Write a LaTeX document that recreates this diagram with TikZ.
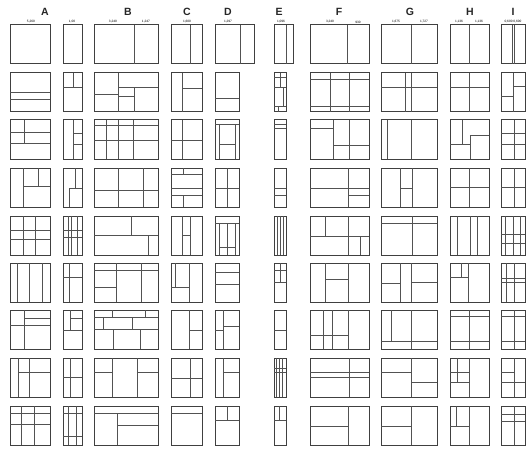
\documentclass[tikz,border=0pt]{standalone}
\usepackage{fontspec}
\setsansfont{Liberation Sans}
\begin{document}
\begin{tikzpicture}[x=1pt,y=-1pt,
  outer/.style={draw=black!75,line width=1.0pt},
  wall/.style={draw=black!68,line width=0.75pt},
  colhead/.style={font=\sffamily\bfseries\fontsize{10.5}{10.5}\selectfont,text=black!85,inner sep=0pt},
  dim/.style={font=\sffamily\fontsize{3.2}{3.2}\selectfont,text=black,inner sep=0pt}]
\newcommand\plan[5]{\begin{scope}[shift={(#1,#2)},x=#3pt,y=-#4pt]\draw[outer] (0,0) rectangle (1,1);#5\end{scope}}
\newcommand\hf[1]{\draw[wall] (0,#1)--(1,#1);}
\newcommand\vf[1]{\draw[wall] (#1,0)--(#1,1);}
\newcommand\hw[3]{\draw[wall] (#2,#1)--(#3,#1);}
\newcommand\vw[3]{\draw[wall] (#1,#2)--(#1,#3);}
\useasboundingbox (0,0) rectangle (526,449);
\fill[white] (0,0) rectangle (526,449);
% headers
\node[colhead] (hA) at (45,12) {A};
\node[colhead] (hB) at (128,12) {B};
\node[colhead] (hC) at (187,12) {C};
\node[colhead] (hD) at (228,12) {D};
\node[colhead] (hE) at (279,12) {E};
\node[colhead] (hF) at (339,12) {F};
\node[colhead] (hG) at (410,12) {G};
\node[colhead] (hH) at (470,12) {H};
\node[colhead] (hI) at (513,12) {I};
% dimension labels
\node[dim] (d1) at (31,22) {5,260};
\node[dim] (d2) at (72,22) {1,00};
\node[dim] (d3) at (113,22) {3,240};
\node[dim] (d4) at (146,22) {1,247};
\node[dim] (d5) at (187,22) {1,600};
\node[dim] (d6) at (228,22) {1,297};
\node[dim] (d7) at (281,22) {1,096};
\node[dim] (d8) at (330,22) {3,240};
\node[dim] (d9) at (358,22) {930};
\node[dim] (d10) at (396,22) {1,675};
\node[dim] (d11) at (424,22) {1,727};
\node[dim] (d12) at (459,22) {1,136};
\node[dim] (d13) at (479,22) {1,136};
\node[dim] (d14) at (513,22) {0,600 0,600};
% ---------- row 1
\plan{10}{25}{40}{39}{}
\plan{63}{25}{19}{39}{}
\plan{94}{25}{64}{39}{\vf{0.625}}
\plan{171}{25}{31}{39}{\vf{0.61}}
\plan{215}{25}{39}{39}{\vf{0.64}}
\plan{274}{25}{19}{39}{\vf{0.63}}
\plan{310}{25}{59}{39}{\vf{0.64}}
\plan{381}{25}{56}{39}{\vf{0.55}}
\plan{450}{25}{39}{39}{\vf{0.49}}
\plan{501}{25}{24}{39}{\vf{0.47}\vf{0.55}}
% ---------- row 2
\plan{10}{73}{40}{39}{\hf{0.5}\hf{0.68}}
\plan{63}{73}{19}{39}{\vw{0.56}{0}{0.37}\hf{0.37}}
\plan{94}{73}{64}{39}{\vf{0.375}\hw{0.55}{0}{0.375}\hw{0.37}{0.375}{1}\vw{0.625}{0.37}{1}\hw{0.6}{0.375}{0.625}}
\plan{171}{73}{31}{39}{\vf{0.36}\hw{0.39}{0.36}{1}}
\plan{215}{73}{24}{39}{\hf{0.65}}
\plan{274}{73}{12}{39}{\hf{0.1}\vw{0.5}{0}{0.37}\hf{0.37}\vw{0.78}{0.37}{0.85}\hf{0.85}\vw{0.35}{0.85}{1}}
\plan{310}{73}{59}{39}{\hf{0.17}\hf{0.85}\vf{0.34}\vf{0.66}}
\plan{381}{73}{56}{39}{\vf{0.43}\vf{0.55}\hf{0.37}}
\plan{450}{73}{39}{39}{\vf{0.49}\hf{0.37}}
\plan{501}{73}{24}{39}{\vf{0.5}\hw{0.6}{0}{0.5}\hw{0.35}{0.5}{1}}
% ---------- row 3
\plan{10}{120}{40}{39}{\vw{0.36}{0}{0.61}\hf{0.33}\hf{0.61}}
\plan{63}{120}{19}{39}{\vf{0.56}\hw{0.35}{0.56}{1}\hw{0.63}{0.56}{1}}
\plan{94}{120}{64}{39}{\hf{0.15}\hf{0.52}\vf{0.19}\vf{0.38}\vf{0.62}}
\plan{171}{120}{31}{39}{\vf{0.36}\hf{0.52}}
\plan{215}{120}{24}{39}{\hf{0.1}\vw{0.18}{0.1}{1}\vw{0.86}{0.1}{1}\hw{0.63}{0.18}{0.86}}
\plan{274}{120}{12}{39}{\hf{0.1}\hf{0.22}}
\plan{310}{120}{59}{39}{\hw{0.22}{0}{0.4}\vf{0.4}\vf{0.66}\hw{0.65}{0.4}{1}}
\plan{381}{120}{56}{39}{\vf{0.12}\vf{0.55}}
\plan{450}{120}{39}{39}{\vw{0.32}{0}{0.63}\hw{0.63}{0}{0.51}\vw{0.51}{0.39}{1}\hw{0.39}{0.51}{1}}
\plan{501}{120}{24}{39}{\hf{0.35}\hf{0.63}\vf{0.54}}
% ---------- row 4
\plan{10}{168}{40}{39}{\vf{0.33}\vw{0.7}{0}{0.48}\hw{0.48}{0.33}{1}}
\plan{63}{168}{19}{39}{\vw{0.65}{0}{0.52}\hw{0.52}{0.35}{1}\vw{0.35}{0.52}{1}}
\plan{94}{168}{64}{39}{\vf{0.38}\vf{0.77}\hf{0.58}}
\plan{171}{168}{31}{39}{\hf{0.17}\vw{0.39}{0}{0.17}\hf{0.52}\hf{0.7}\vw{0.39}{0.7}{1}}
\plan{215}{168}{24}{39}{\vf{0.5}\hf{0.52}}
\plan{274}{168}{12}{39}{\hf{0.52}\hf{0.7}}
\plan{310}{168}{59}{39}{\vf{0.65}\hf{0.52}\hw{0.7}{0.65}{1}}
\plan{381}{168}{56}{39}{\vf{0.35}\vf{0.56}\hw{0.52}{0.35}{0.56}}
\plan{450}{168}{39}{39}{\vf{0.49}\hf{0.5}}
\plan{501}{168}{24}{39}{\vf{0.54}\hf{0.5}}
% ---------- row 5
\plan{10}{216}{40}{39}{\vf{0.33}\vf{0.63}\hf{0.36}\hf{0.61}}
\plan{63}{216}{19}{39}{\vf{0.3}\vf{0.45}\vf{0.75}\hf{0.38}\hf{0.55}}
\plan{94}{216}{64}{39}{\hf{0.5}\vw{0.59}{0}{0.5}\vw{0.85}{0.5}{1}}
\plan{171}{216}{31}{39}{\vf{0.37}\vf{0.61}\hw{0.5}{0.37}{0.61}}
\plan{215}{216}{24}{39}{\hf{0.18}\vw{0.17}{0.18}{1}\vw{0.83}{0.18}{1}\vw{0.5}{0.18}{1}\hw{0.8}{0.17}{0.83}}
\plan{274}{216}{12}{39}{\vf{0.28}\vf{0.56}\vf{0.78}}
\plan{310}{216}{59}{39}{\hf{0.52}\vw{0.26}{0}{0.52}\vf{0.65}\vw{0.85}{0.52}{1}}
\plan{381}{216}{56}{39}{\hf{0.2}\vf{0.56}}
\plan{450}{216}{39}{39}{\vf{0.2}\vf{0.51}\vf{0.69}}
\plan{501}{216}{24}{39}{\vf{0.17}\vf{0.51}\vf{0.79}\hf{0.47}\hf{0.7}}
% ---------- row 6
\plan{10}{263}{40}{39}{\vf{0.19}\vf{0.49}\vf{0.8}}
\plan{63}{263}{19}{39}{\vf{0.35}\hf{0.37}}
\plan{94}{263}{64}{39}{\hf{0.2}\vf{0.35}\hw{0.63}{0}{0.35}\vf{0.74}}
\plan{171}{263}{31}{39}{\vw{0.15}{0}{0.63}\vf{0.58}\hw{0.63}{0}{0.58}}
\plan{215}{263}{24}{39}{\hf{0.24}\hf{0.54}}
\plan{274}{263}{12}{39}{\hf{0.19}\hf{0.5}\vw{0.5}{0}{0.5}}
\plan{310}{263}{59}{39}{\vf{0.26}\vf{0.65}\hw{0.41}{0.26}{0.65}}
\plan{381}{263}{56}{39}{\vf{0.34}\vf{0.55}\hw{0.52}{0}{0.34}\hw{0.5}{0.55}{1}}
\plan{450}{263}{39}{39}{\vw{0.28}{0}{0.38}\hw{0.38}{0}{0.48}\vf{0.48}}
\plan{501}{263}{24}{39}{\vf{0.24}\vf{0.54}\hf{0.4}\hf{0.5}}
% ---------- row 7
\plan{10}{310}{40}{39}{\hf{0.4}\vf{0.37}\hw{0.21}{0.37}{1}}
\plan{63}{310}{19}{39}{\vw{0.4}{0}{0.51}\hw{0.21}{0.4}{1}\hf{0.51}}
\plan{94}{310}{64}{39}{\hf{0.2}\hf{0.5}\vw{0.28}{0}{0.2}\vw{0.8}{0}{0.2}\vw{0.15}{0.2}{0.5}\vw{0.6}{0.2}{0.5}\vw{0.3}{0.5}{1}\vw{0.73}{0.5}{1}}
\plan{171}{310}{31}{39}{\vf{0.6}\hw{0.51}{0.6}{1}}
\plan{215}{310}{24}{39}{\vf{0.36}\hw{0.43}{0.36}{1}\hw{0.51}{0}{0.36}}
\plan{274}{310}{12}{39}{\hf{0.51}}
\plan{310}{310}{59}{39}{\vf{0.23}\vf{0.38}\vf{0.65}\hw{0.64}{0}{0.65}}
\plan{381}{310}{56}{39}{\vw{0.19}{0}{0.81}\hf{0.81}\vf{0.55}}
\plan{450}{310}{39}{39}{\hf{0.17}\hf{0.8}\vf{0.5}}
\plan{501}{310}{24}{39}{\hf{0.17}\hf{0.8}\vf{0.54}}
% ---------- row 8
\plan{10}{358}{40}{39}{\vf{0.2}\vf{0.49}\hw{0.38}{0.2}{1}}
\plan{63}{358}{19}{39}{\vf{0.38}\hf{0.5}}
\plan{94}{358}{64}{39}{\vf{0.28}\vf{0.67}\hw{0.38}{0}{0.28}\hw{0.38}{0.67}{1}}
\plan{171}{358}{31}{39}{\vf{0.64}\hf{0.51}}
\plan{215}{358}{24}{39}{\vf{0.33}\hw{0.38}{0.33}{1}}
\plan{274}{358}{12}{39}{\vf{0.2}\vf{0.43}\vf{0.71}\hf{0.27}\hf{0.38}}
\plan{310}{358}{59}{39}{\vf{0.67}\hf{0.38}\hf{0.5}}
\plan{381}{358}{56}{39}{\vf{0.55}\hw{0.38}{0}{0.55}\hw{0.62}{0.55}{1}}
\plan{450}{358}{39}{39}{\vw{0.18}{0}{0.62}\hw{0.38}{0}{0.5}\hw{0.62}{0}{0.5}\vf{0.5}}
\plan{501}{358}{24}{39}{\vf{0.54}\hw{0.38}{0}{0.54}\hf{0.62}}
% ---------- row 9
\plan{10}{406}{40}{39}{\hf{0.19}\hf{0.47}\vf{0.29}\vf{0.6}}
\plan{63}{406}{19}{39}{\vf{0.3}\vf{0.7}\hf{0.19}\hf{0.79}}
\plan{94}{406}{64}{39}{\hf{0.2}\vw{0.36}{0.2}{1}\hw{0.5}{0.36}{1}}
\plan{171}{406}{31}{39}{\hf{0.19}}
\plan{215}{406}{24}{39}{\hf{0.38}\vw{0.5}{0}{0.38}}
\plan{274}{406}{12}{39}{\vw{0.43}{0}{0.36}\hf{0.36}}
\plan{310}{406}{59}{39}{\vf{0.65}\hw{0.53}{0}{0.65}}
\plan{381}{406}{56}{39}{\vf{0.55}\hw{0.53}{0}{0.55}}
\plan{450}{406}{39}{39}{\vw{0.16}{0}{0.53}\hw{0.53}{0}{0.5}\vf{0.5}}
\plan{501}{406}{24}{39}{\hf{0.21}\hf{0.39}\vf{0.54}}
\end{tikzpicture}
\end{document}
